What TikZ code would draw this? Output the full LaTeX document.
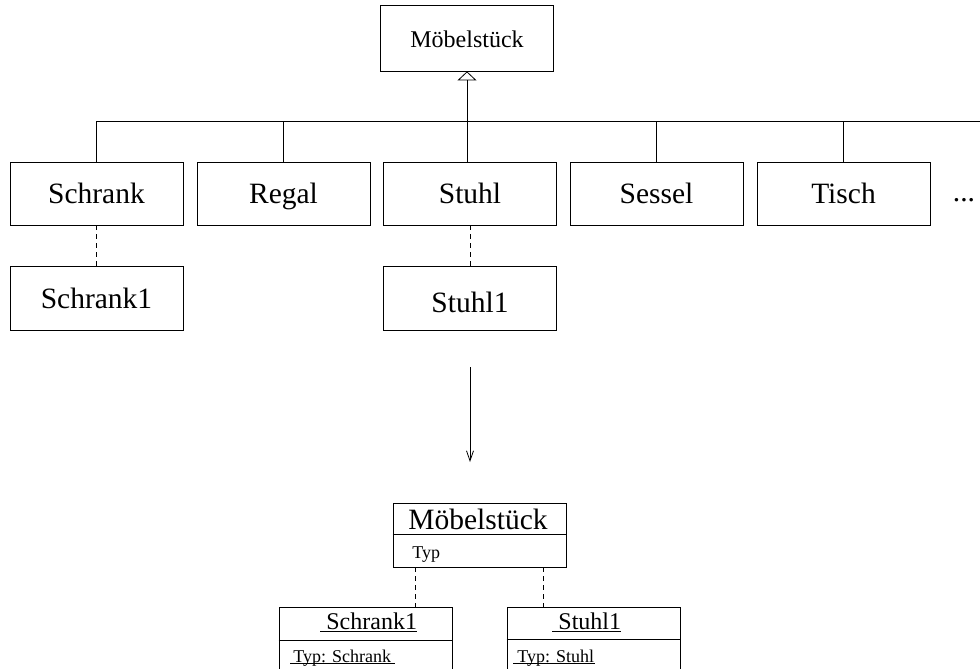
\documentclass[tikz,border=0pt]{standalone}
\usepackage{fontspec}
\setmainfont{Liberation Serif}
\usetikzlibrary{arrows.meta,calc}
\begin{document}
\begin{tikzpicture}[x=1pt,y=-1pt,line width=0.8pt,
  classbox/.style={draw, rectangle, inner sep=0pt, minimum width=173pt, minimum height=63pt},
  bigfont/.style={font=\fontsize{29.5}{34}\selectfont},
  midfont/.style={font=\fontsize{24}{28}\selectfont},
  smallfont/.style={font=\fontsize{18}{21}\selectfont},
  rowbox/.style={classbox, bigfont, text height=19pt, text depth=0pt},
  plain/.style={inner sep=0pt},
  instof/.style={dashed, dash pattern=on 5pt off 4pt},
  genarrow/.style={-{Triangle[open, width=19pt, length=9pt, fill=white]}},
  maparrow/.style={-{Straight Barb[length=10pt, width=7pt]}}
]
\path[use as bounding box] (0,0) rectangle (980,669);

% generalisation hierarchy
\node[classbox, midfont, minimum height=66pt, text height=20pt, text depth=0pt] (top) at (467,38) {Möbelstück};

\node[rowbox] (schrank) at (96.5,193.5) {Schrank};
\node[rowbox] (regal)   at (283.5,193.5) {Regal};
\node[rowbox] (stuhl)   at (470,193.5) {Stuhl};
\node[rowbox] (sessel)  at (656.5,193.5) {Sessel};
\node[rowbox] (tisch)   at (843.5,193.5) {Tisch};
\node[plain, bigfont, anchor=base] (more) at (964,201) {...};

\coordinate (busR) at (980,121);
\draw (schrank.north |- busR) -- (busR);
\foreach \n in {schrank, regal, sessel, tisch}
  \draw (\n.north) -- (\n.north |- busR);
\draw[genarrow] (top.south |- stuhl.north) -- (top.south);

% instances
\node[rowbox, minimum height=64pt, text height=20pt] (schrank1) at (96.5,298) {Schrank1};
\node[rowbox, minimum height=64pt, text height=28pt] (stuhl1)   at (470,298) {Stuhl1};
\draw[instof] (schrank.south) -- (schrank1.north);
\draw[instof] (stuhl.south) -- (stuhl1.north);

% transformation arrow
\coordinate (arrA) at (470,367);
\coordinate (arrB) at (470,462);
\draw[maparrow] (arrA) -- (arrB);

% type object model
\begin{scope}
\clip (0,0) rectangle (980,669);
\node[draw, rectangle, inner sep=0pt, minimum width=173pt, minimum height=64pt] (mclass) at (479.5,535) {};
\draw (mclass.west |- 0,534) -- (mclass.east |- 0,534);
\node[plain, bigfont, anchor=base] (mtitle) at (478,529) {Möbelstück};
\node[plain, smallfont, anchor=base west] (mattr) at (412,558) {Typ};

\node[draw, rectangle, inner sep=0pt, minimum width=173pt, minimum height=100pt] (sobj) at (365.5,657) {};
\node[draw, rectangle, inner sep=0pt, minimum width=173pt, minimum height=100pt] (pobj) at (593.5,657) {};
\draw (sobj.west |- 0,640) -- (sobj.east |- 0,640);
\draw (pobj.west |- 0,639) -- (pobj.east |- 0,639);

\node[plain, midfont, anchor=base west] (stitle) at (320,629) {\ Schrank1};
\node[plain, midfont, anchor=base west] (ptitle) at (552,629) {\ Stuhl1};
\draw ([yshift=-2pt]stitle.base west) -- ([yshift=-2pt]stitle.base east);
\draw ([yshift=-2pt]ptitle.base west) -- ([yshift=-2pt]ptitle.base east);

\node[plain, smallfont, anchor=base west] (sattr) at (290,662) {\kern3pt Typ: Schrank\kern3pt};
\node[plain, smallfont, anchor=base west] (pattr) at (513,662) {\kern4pt Typ: Stuhl};
\draw ([yshift=-1pt]sattr.base west) -- ([yshift=-1pt]sattr.base east);
\draw ([yshift=-1pt]pattr.base west) -- ([yshift=-1pt]pattr.base east);

\coordinate (dl) at ($(mclass.south west)+(23,0)$);
\coordinate (dr) at ($(mclass.south east)+(-23,0)$);
\draw[instof] (dl) -- (dl |- sobj.north);
\draw[instof] (dr) -- (dr |- pobj.north);
\end{scope}
\end{tikzpicture}
\end{document}
